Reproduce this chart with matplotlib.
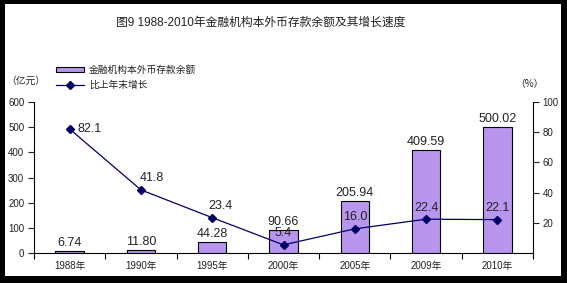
import matplotlib
matplotlib.use("Agg")
import matplotlib.pyplot as plt
from matplotlib.patches import Rectangle
import numpy as np

plt.rcParams['font.family'] = ['Liberation Sans', 'Noto Sans CJK SC', 'DejaVu Sans']

categories = ["1988年", "1990年", "1995年", "2000年", "2005年", "2009年", "2010年"]
deposits = [6.74, 11.80, 44.28, 90.66, 205.94, 409.59, 500.02]
growth = [82.1, 41.8, 23.4, 5.4, 16.0, 22.4, 22.1]
bar_labels = ["6.74", "11.80", "44.28", "90.66", "205.94", "409.59", "500.02"]
growth_labels = ["82.1", "41.8", "23.4", "5.4", "16.0", "22.4", "22.1"]
left_ticks = [0, 100, 200, 300, 400, 500, 600]
right_ticks = [20, 40, 60, 80, 100]

W, H = 567, 283
fig = plt.figure(figsize=(W / 100, H / 100), dpi=100)
fig.patch.set_facecolor("black")
fig.patches.append(Rectangle((5 / W, 1 - 276 / H), (561 - 5) / W, (276 - 4) / H,
                             transform=fig.transFigure, facecolor="white",
                             edgecolor="none", zorder=-5))

ax = fig.add_axes([34 / W, 1 - 253 / H, (533 - 34) / W, (253 - 102) / H])
ax.set_facecolor("none")
ax.set_zorder(1)
x = np.arange(len(categories))

bar_color = "#B896EE"
line_color = "#000066"
text_color = "#222222"

bars = ax.bar(x, deposits, width=0.4, color=bar_color, edgecolor="black",
              linewidth=0.8, label="金融机构本外币存款余额", zorder=2)
ax.set_xlim(-0.5, len(categories) - 0.5)
ax.set_ylim(0, 600)
ax.set_yticks(left_ticks)
ax.set_xticks(x)
ax.set_xticklabels(categories)
ax.set_xticks(np.arange(-0.5, len(categories), 1.0), minor=True)
ax.tick_params(axis="x", which="major", length=0, labelsize=7, pad=6, colors=text_color)
ax.tick_params(axis="x", which="minor", length=4, direction="out", color="black", width=0.8)
ax.tick_params(axis="y", length=4, width=0.8, labelsize=7, pad=3, colors=text_color)
for s in ["top", "right"]:
    ax.spines[s].set_visible(False)
for s in ["left", "bottom"]:
    ax.spines[s].set_linewidth(0.8)

for xi, v, lab in zip(x, deposits, bar_labels):
    ax.annotate(lab, (xi, v), xytext=(0, 1.5), textcoords="offset points",
                ha="center", va="bottom", fontsize=9, color=text_color, zorder=5)

ax2 = ax.twinx()
ax2.set_zorder(2)
ax2.set_facecolor("none")
ax2.set_ylim(0, 100)
ax2.set_yticks(right_ticks)
ax2.tick_params(axis="y", length=4, width=0.8, labelsize=7, pad=3, colors=text_color)
for s in ["top", "left", "bottom"]:
    ax2.spines[s].set_visible(False)
ax2.spines["right"].set_linewidth(0.8)
line, = ax2.plot(x, growth, color=line_color, linewidth=0.9, marker="D",
                 markersize=4, markerfacecolor=line_color, markeredgecolor=line_color,
                 label="比上年末增长", zorder=3)

label_offsets = [(6, 0, "left", "center"), (8, 4, "center", "bottom"),
                 (6, 4, "center", "bottom"), (0, 4, "center", "bottom"),
                 (0, 4, "center", "bottom"), (0, 4, "center", "bottom"),
                 (0, 4, "center", "bottom")]
for xi, v, lab, (dx, dy, ha, va) in zip(x, growth, growth_labels, label_offsets):
    ax2.annotate(lab, (xi, v), xytext=(dx, dy), textcoords="offset points",
                 ha=ha, va=va, fontsize=9, color=text_color, zorder=5)

cjk = ['Noto Sans CJK SC', 'DejaVu Sans']
fig.text(261 / W, 1 - 23 / H, "图9 1988-2010年金融机构本外币存款余额及其增长速度",
         ha="center", va="center", fontsize=8.5, color=text_color)
fig.text(26 / W, 1 - 81 / H, "（亿元）", ha="center", va="center", fontsize=7,
         color=text_color, family=cjk)
fig.text(529 / W, 1 - 84 / H, "（%）", ha="center", va="center", fontsize=7,
         color=text_color, family=cjk)

fig.legend(handles=[bars, line], labels=["金融机构本外币存款余额", "比上年末增长"],
           loc="upper left", bbox_to_anchor=(56 / W, 1 - 65 / H),
           bbox_transform=fig.transFigure, frameon=False, fontsize=7,
           borderpad=0, borderaxespad=0, handlelength=2.9, handleheight=0.5,
           handletextpad=0.5, labelspacing=0.5, labelcolor=text_color)

fig.savefig("out.png", dpi=100, facecolor=fig.get_facecolor())
